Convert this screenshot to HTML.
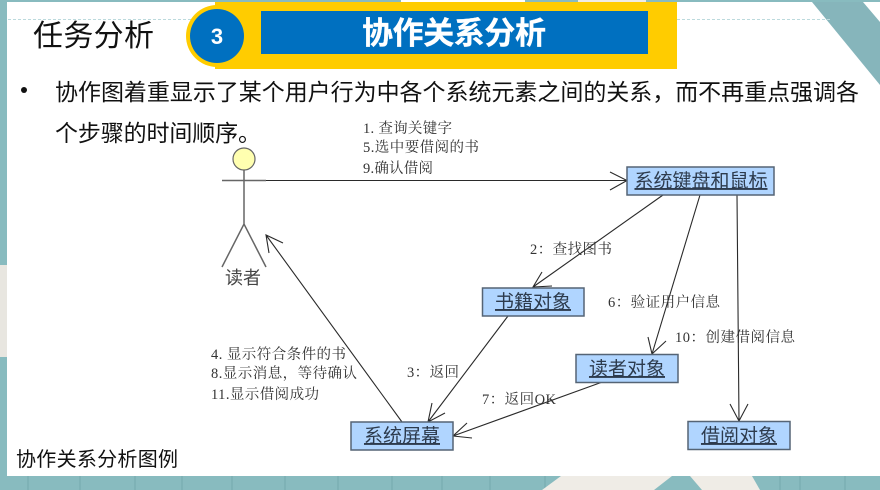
<!DOCTYPE html>
<html><head><meta charset="utf-8"><style>
html,body{margin:0;padding:0;width:880px;height:490px;overflow:hidden;background:#fff}
svg{display:block}
.l{font-family:"Liberation Serif","Noto Serif CJK SC",serif;font-size:14.5px;fill:#333}
.b{font-family:"Liberation Sans","Noto Sans CJK SC",sans-serif;fill:#111}
.n{font-family:"Liberation Sans","Noto Sans CJK SC",sans-serif;font-size:19px;fill:#2d3b4d;text-anchor:middle;text-decoration:underline}
</style></head><body>
<svg width="880" height="490" viewBox="0 0 880 490" xmlns="http://www.w3.org/2000/svg">
<rect width="880" height="490" fill="#88bbbf"/>
<g stroke="#74a9ae" stroke-width="1">
<path d="M28 476V490M80 476V490M135 476V490M182 476V490M232 476V490M285 476V490M338 476V490M392 476V490M442 476V490M490 476V490M545 476V490M780 476V490M800 476V490M845 476V490"/>
</g>
<rect x="0" y="265" width="7" height="92" fill="#e8e6e0"/>
<polygon points="561,476 672,476 654,490 542,490" fill="#efece6"/>
<polygon points="690,476 752,476 760,490 702,490" fill="#efece6"/>
<rect x="401" y="0" width="124" height="2" fill="#fff"/>
<rect x="578" y="0" width="68" height="2" fill="#efece6"/>
<rect x="7" y="2" width="873" height="474" fill="#fff"/>
<polygon points="812,2 863,2 880,22 880,85" fill="#86b5bb"/>
<path d="M8 19.500H215M677 19.500H830" stroke="#bcdadd" stroke-width="1" stroke-dasharray="3 2"/>
<rect x="215" y="2" width="462" height="67" fill="#ffcc00"/>
<circle cx="217" cy="36" r="31" fill="#ffcc00"/>
<circle cx="217" cy="36" r="27" fill="#0070c0"/>
<rect x="261" y="11" width="387" height="43" fill="#0070c0"/>
<text x="217" y="44" text-anchor="middle" font-family="Liberation Sans,sans-serif" font-weight="bold" font-size="22" fill="#fff">3</text>
<text x="362" y="44" textLength="184" lengthAdjust="spacing" font-family="Liberation Sans,Noto Sans CJK SC,sans-serif" font-weight="bold" font-size="31" fill="#fff" stroke="#fff" stroke-width="0.300">协作关系分析</text>
<text class="b" x="33" y="46" font-size="30" textLength="121">任务分析</text>
<circle cx="24" cy="90" r="3" fill="#111"/>
<text class="b" x="55" y="100" font-size="23" textLength="804">协作图着重显示了某个用户行为中各个系统元素之间的关系，而不再重点强调各</text>
<text class="b" x="55" y="141" font-size="23" textLength="206">个步骤的时间顺序。</text>
<text class="b" x="16" y="466" font-size="20" textLength="162">协作关系分析图例</text>

<circle cx="244" cy="159" r="11" fill="#ffffb0" stroke="#666" stroke-width="1.200"/>
<path d="M244 170V224M222 180.500H266M222 267L244 224L266 267" fill="none" stroke="#666" stroke-width="1.500"/>
<text x="225" y="284" font-family="Liberation Sans,Noto Sans CJK SC,sans-serif" font-size="18" fill="#444">读者</text>

<g fill="none" stroke="#2a2a2a" stroke-width="1.100">
<path d="M266 180.500H627M610 172L627 180.500L610 190"/>
<path d="M663 195L533 287M542 272L533 287L552 286"/>
<path d="M700 195L652 354M648 337L652 354L666 341"/>
<path d="M737 195L739 421M730 404L739 421L748 404"/>
<path d="M508 316L428 422M432 403L428 422L445 413"/>
<path d="M601 382.500L453 436M467 423L453 436L472 438"/>
<path d="M402 422L266 235M283 243L266 235L269 253"/>
</g>

<g fill="#b0d5ff" stroke="#556475" stroke-width="1.500">
<rect x="627" y="167" width="147" height="28"/>
<rect x="482.500" y="288" width="101.500" height="28"/>
<rect x="576" y="354.500" width="102" height="28"/>
<rect x="688" y="421.500" width="102" height="28"/>
<rect x="351" y="422" width="102" height="28"/>
</g>
<text class="n" x="701" y="187">系统键盘和鼠标</text>
<text class="n" x="533" y="308">书籍对象</text>
<text class="n" x="627" y="375">读者对象</text>
<text class="n" x="739" y="442">借阅对象</text>
<text class="n" x="402" y="442">系统屏幕</text>

<text class="l" x="363" y="133" textLength="89">1. 查询关键字</text>
<text class="l" x="363" y="152" textLength="116">5.选中要借阅的书</text>
<text class="l" x="363" y="173" textLength="70">9.确认借阅</text>
<text class="l" x="530" y="254" textLength="82">2：查找图书</text>
<text class="l" x="608" y="307" textLength="112">6：验证用户信息</text>
<text class="l" x="675" y="342" textLength="120">10：创建借阅信息</text>
<text class="l" x="407" y="377" textLength="52">3：返回</text>
<text class="l" x="482" y="404" textLength="74">7：返回OK</text>
<text class="l" x="211" y="359" textLength="135">4. 显示符合条件的书</text>
<text class="l" x="211" y="378" textLength="146">8.显示消息，等待确认</text>
<text class="l" x="211" y="399" textLength="108">11.显示借阅成功</text>
</svg>
</body></html>
